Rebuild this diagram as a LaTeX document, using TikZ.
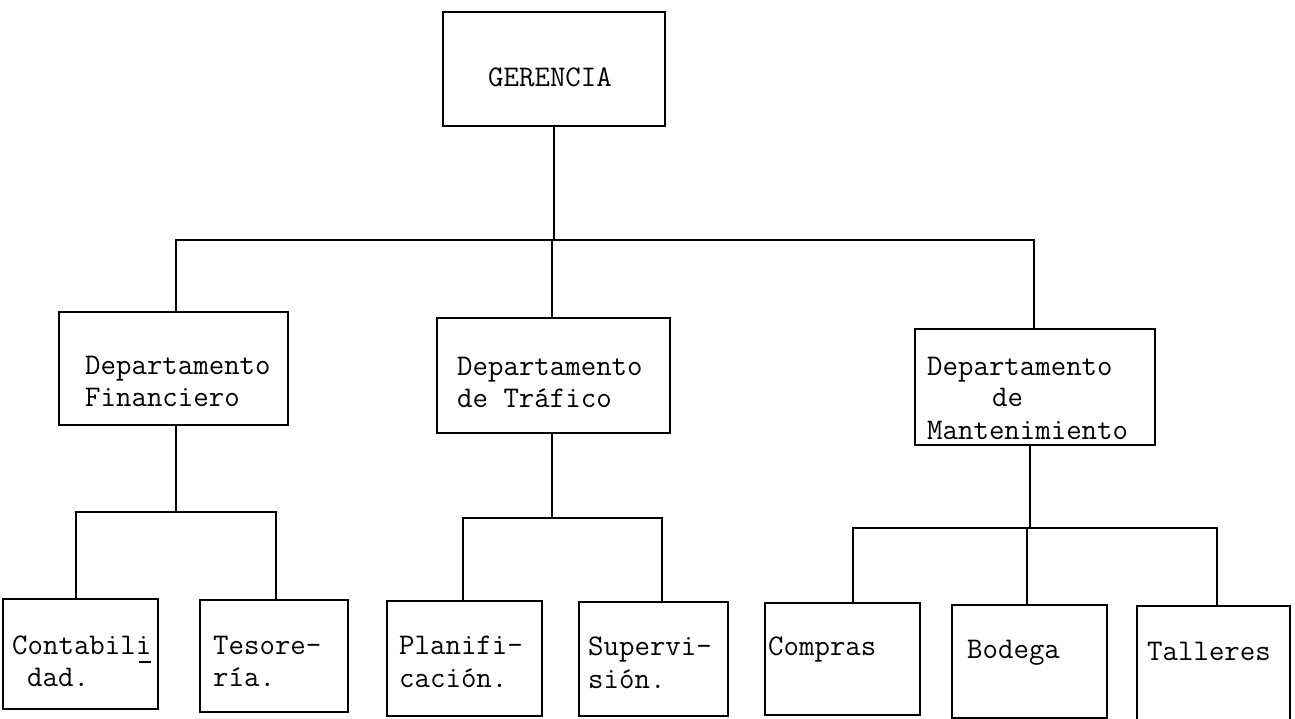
\documentclass[tikz,border=0pt]{standalone}
\usepackage{fontspec}
\begin{document}
\begin{tikzpicture}[x=1pt,y=-1pt,
  box/.style={draw, line width=1.5pt, inner sep=0pt},
  link/.style={line width=1.4pt},
  lbl/.style={anchor=base west, inner sep=0pt, font=\fontsize{30}{33}\selectfont\ttfamily}]
\useasboundingbox (0,0) rectangle (1295,719);
% boxes
\node[box, minimum width=222pt, minimum height=114pt] (G)   at (554,69) {};
\node[box, minimum width=229pt, minimum height=113pt] (Fin) at (173.5,368.5) {};
\node[box, minimum width=233pt, minimum height=115pt] (Tra) at (553.5,375.5) {};
\node[box, minimum width=240pt, minimum height=116pt] (Man) at (1035,387) {};
\node[box, minimum width=155pt, minimum height=110pt] (Con) at (80.5,654) {};
\node[box, minimum width=148pt, minimum height=112pt] (Tes) at (274,656) {};
\node[box, minimum width=155pt, minimum height=115pt] (Pla) at (464.5,658.5) {};
\node[box, minimum width=149pt, minimum height=114pt] (Sup) at (653.5,659) {};
\node[box, minimum width=155pt, minimum height=112pt] (Com) at (842.5,659) {};
\node[box, minimum width=155pt, minimum height=113pt] (Bod) at (1029.5,661.5) {};
\node[box, minimum width=153pt, minimum height=134pt] (Tal) at (1213.5,673) {};
% texts
\node[lbl] (tG) at (488,87) {GERENCIA};
\node[lbl] (tFin1) at (85,374) {Departamento};
\node[lbl] (tFin2) at (85,406) {Financiero};
\node[lbl] (tTra1) at (457,375) {Departamento};
\node[lbl] (tTra2) at (457,407) {de Tráfico};
\node[lbl] (tMan1) at (927,375) {Departamento};
\node[lbl] (tMan2) at (992,406) {de};
\node[lbl] (tMan3) at (927,439) {Mantenimiento};
\node[lbl] (tCon1) at (12,654) {Contabili};
\node[lbl] (tCon2) at (27,686) {dad.};
\node[lbl] (tTes1) at (213,654) {Tesore-};
\node[lbl] (tTes2) at (213,686) {ría.};
\node[lbl] (tPla1) at (399,654) {Planifi-};
\node[lbl] (tPla2) at (399,687) {cación.};
\node[lbl] (tSup1) at (588,655) {Supervi-};
\node[lbl] (tSup2) at (588,688) {sión.};
\node[lbl] (tCom) at (768,655) {Compras};
\node[lbl] (tBod) at (967,658) {Bodega};
\node[lbl] (tTal) at (1147,660) {Talleres};
\draw[line width=1.2pt] ([xshift=-12pt,yshift=-8pt]tCon1.base east) -- ([yshift=-8pt]tCon1.base east);
% top level
\coordinate (tb) at (0,240);
\draw[link] (G.south) -- (G.south |- tb);
\draw[link] ([xshift=2.5pt]Fin.north) |- ([xshift=-1pt]Man.north |- tb) -- ([xshift=-1pt]Man.north);
\draw[link] ([xshift=-1.5pt]Tra.north) -- ([xshift=-1.5pt]Tra.north |- tb);
% Financiero
\coordinate (fb) at (0,512);
\draw[link] ([xshift=2.5pt]Fin.south) -- ([xshift=2.5pt]Fin.south |- fb);
\draw[link] ([xshift=-4.5pt]Con.north) |- ([xshift=2pt]Tes.north |- fb) -- ([xshift=2pt]Tes.north);
% Trafico
\coordinate (trb) at (0,518);
\draw[link] ([xshift=-1.5pt]Tra.south) -- ([xshift=-1.5pt]Tra.south |- trb);
\draw[link] ([xshift=-1.5pt]Pla.north) |- ([xshift=8.5pt]Sup.north |- trb) -- ([xshift=8.5pt]Sup.north);
% Mantenimiento
\coordinate (mb) at (0,528);
\draw[link] ([xshift=-5pt]Man.south) -- ([xshift=-5pt]Man.south |- mb);
\draw[link] ([xshift=10.5pt]Com.north) |- ([xshift=3.5pt]Tal.north |- mb) -- ([xshift=3.5pt]Tal.north);
\draw[link] ([xshift=-2.5pt]Bod.north) -- ([xshift=-2.5pt]Bod.north |- mb);
\end{tikzpicture}
\end{document}
